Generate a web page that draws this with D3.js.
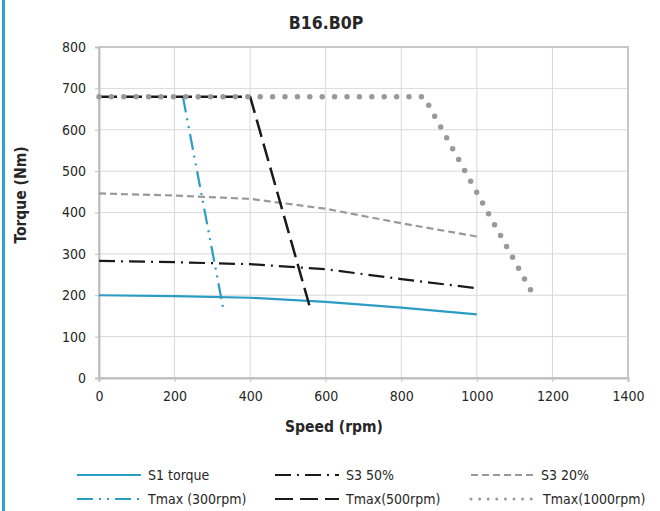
<!DOCTYPE html>
<html><head><meta charset="utf-8">
<script src="https://cdn.jsdelivr.net/npm/d3@7"></script>
<style>
body{margin:0;background:#fff;}
svg{display:block;font-family:"DejaVu Sans Condensed","DejaVu Sans",sans-serif;font-stretch:condensed;}
</style></head><body>
<svg id="c" width="660" height="511"></svg>
<script>
// ---- data ----
const title = "B16.B0P";
const xTicks = [0,200,400,600,800,1000,1200,1400];
const yTicks = [0,100,200,300,400,500,600,700,800];
const contSpeed = [0,200,400,600,800,1000];
const s1Torque = [200,198,194,184,170,154];
const s3_50 = [283,280,275,263,239,217];
const s3_20 = [446,441,433,409,374,342];
const tmax300Speed = [222,330];
const tmax300 = [680,162];
const tmax500Speed = [0,400,560];
const tmax500 = [680,680,165];
const tmax1000Speed = [0,860,1145];
const tmax1000 = [680,680,208];
const seriesNames = ["S1 torque","S3 50%","S3 20%","Tmax (300rpm)","Tmax(500rpm)","Tmax(1000rpm)"];

const teal="#2b9cc3", black="#1a1a1a", gray="#999999";
const series = [
  {name:seriesNames[0], xs:contSpeed, ys:s1Torque, color:teal, w:2.2, dash:null, cap:"butt"},
  {name:seriesNames[1], xs:contSpeed, ys:s3_50, color:black, w:2.2, dash:"16 6 2 6", cap:"butt"},
  {name:seriesNames[2], xs:contSpeed, ys:s3_20, color:gray, w:2.2, dash:"7 4", cap:"butt"},
  {name:seriesNames[3], xs:tmax300Speed, ys:tmax300, color:teal, w:2.2, dash:"16 6 2 6 2 6", cap:"butt"},
  {name:seriesNames[4], xs:tmax500Speed, ys:tmax500, color:black, w:2.5, dash:"18 7", cap:"butt"},
  {name:seriesNames[5], xs:tmax1000Speed, ys:tmax1000, color:gray, w:5.5, dash:"0 12.4", cap:"round"},
];

const svg = d3.select("#c");
const L=99, R=628, T=47, B=378;
const x = d3.scaleLinear().domain([0,1400]).range([L,R]);
const y = d3.scaleLinear().domain([0,800]).range([B,T]);

// left blue bar
svg.append("rect").attr("x",2).attr("y",0).attr("width",3).attr("height",511).attr("fill","#2ea3cd");

// gridlines
const g = svg.append("g");
g.selectAll(".hg").data(yTicks).join("line")
  .attr("x1",L).attr("x2",R).attr("y1",d=>y(d)).attr("y2",d=>y(d))
  .attr("stroke","#d9d9d9").attr("stroke-width",1);
g.selectAll(".vg").data(xTicks).join("line")
  .attr("y1",T).attr("y2",B).attr("x1",d=>x(d)).attr("x2",d=>x(d))
  .attr("stroke","#d9d9d9").attr("stroke-width",1);
// frame
svg.append("rect").attr("x",L).attr("y",T).attr("width",R-L).attr("height",B-T)
  .attr("fill","none").attr("stroke","#c8c8c8").attr("stroke-width",2);

// axes
const xAxis = d3.axisBottom(x).tickValues(xTicks).tickFormat(d3.format("d")).tickSize(4).tickPadding(9);
const yAxis = d3.axisLeft(y).tickValues(yTicks).tickFormat(d3.format("d")).tickSize(4).tickPadding(9);
const gx = svg.append("g").attr("transform",`translate(0,${B})`).call(xAxis);
const gy = svg.append("g").attr("transform",`translate(${L},0)`).call(yAxis);
[gx,gy].forEach(a=>{
  a.select(".domain").attr("stroke","#bfbfbf").attr("stroke-width",2);
  a.selectAll(".tick line").attr("stroke","#bfbfbf").attr("stroke-width",1);
  a.selectAll(".tick text").attr("fill","#262626").attr("font-size","14px")
    .attr("font-family",'"DejaVu Sans Condensed","DejaVu Sans",sans-serif');
});

// lines
const lineGen = d3.line().x(d=>x(d[0])).y(d=>y(d[1]));
series.forEach(s=>{
  const pts = s.xs.map((v,i)=>[v,s.ys[i]]);
  svg.append("path").attr("d",lineGen(pts)).attr("fill","none")
    .attr("stroke",s.color).attr("stroke-width",s.w)
    .attr("stroke-dasharray",s.dash).attr("stroke-linecap",s.cap)
    .attr("stroke-linejoin","round");
});

// titles
svg.append("text").attr("x",326).attr("y",29).attr("text-anchor","middle")
  .attr("font-size","17.5px").attr("font-weight","bold").attr("fill","#262626").text(title);
svg.append("text").attr("x",334).attr("y",432).attr("text-anchor","middle")
  .attr("font-size","15.5px").attr("font-weight","bold").attr("fill","#262626").text("Speed (rpm)");
svg.append("text").attr("transform","translate(26,195) rotate(-90)").attr("text-anchor","middle")
  .attr("font-size","15.5px").attr("font-weight","bold").attr("fill","#262626").text("Torque (Nm)");

// legend
const legPos = [
  {lx:77, tx:148, y:475},{lx:275, tx:346, y:475},{lx:471, tx:541, y:475},
  {lx:77, tx:148, y:499},{lx:275, tx:346, y:499},{lx:471, tx:543, y:499}
];
series.forEach((s,i)=>{
  const p = legPos[i];
  svg.append("line").attr("x1",p.lx).attr("x2",p.lx+(i===5?62:64)).attr("y1",p.y).attr("y2",p.y)
    .attr("stroke",s.color).attr("stroke-width",i===5?3:2.2)
    .attr("stroke-dasharray",i===5?"0 8.6":s.dash).attr("stroke-linecap",s.cap);
  svg.append("text").attr("x",p.tx).attr("y",p.y).attr("dy","0.36em")
    .attr("font-size","14px").attr("fill","#262626").text(s.name);
});
</script>
</body></html>
